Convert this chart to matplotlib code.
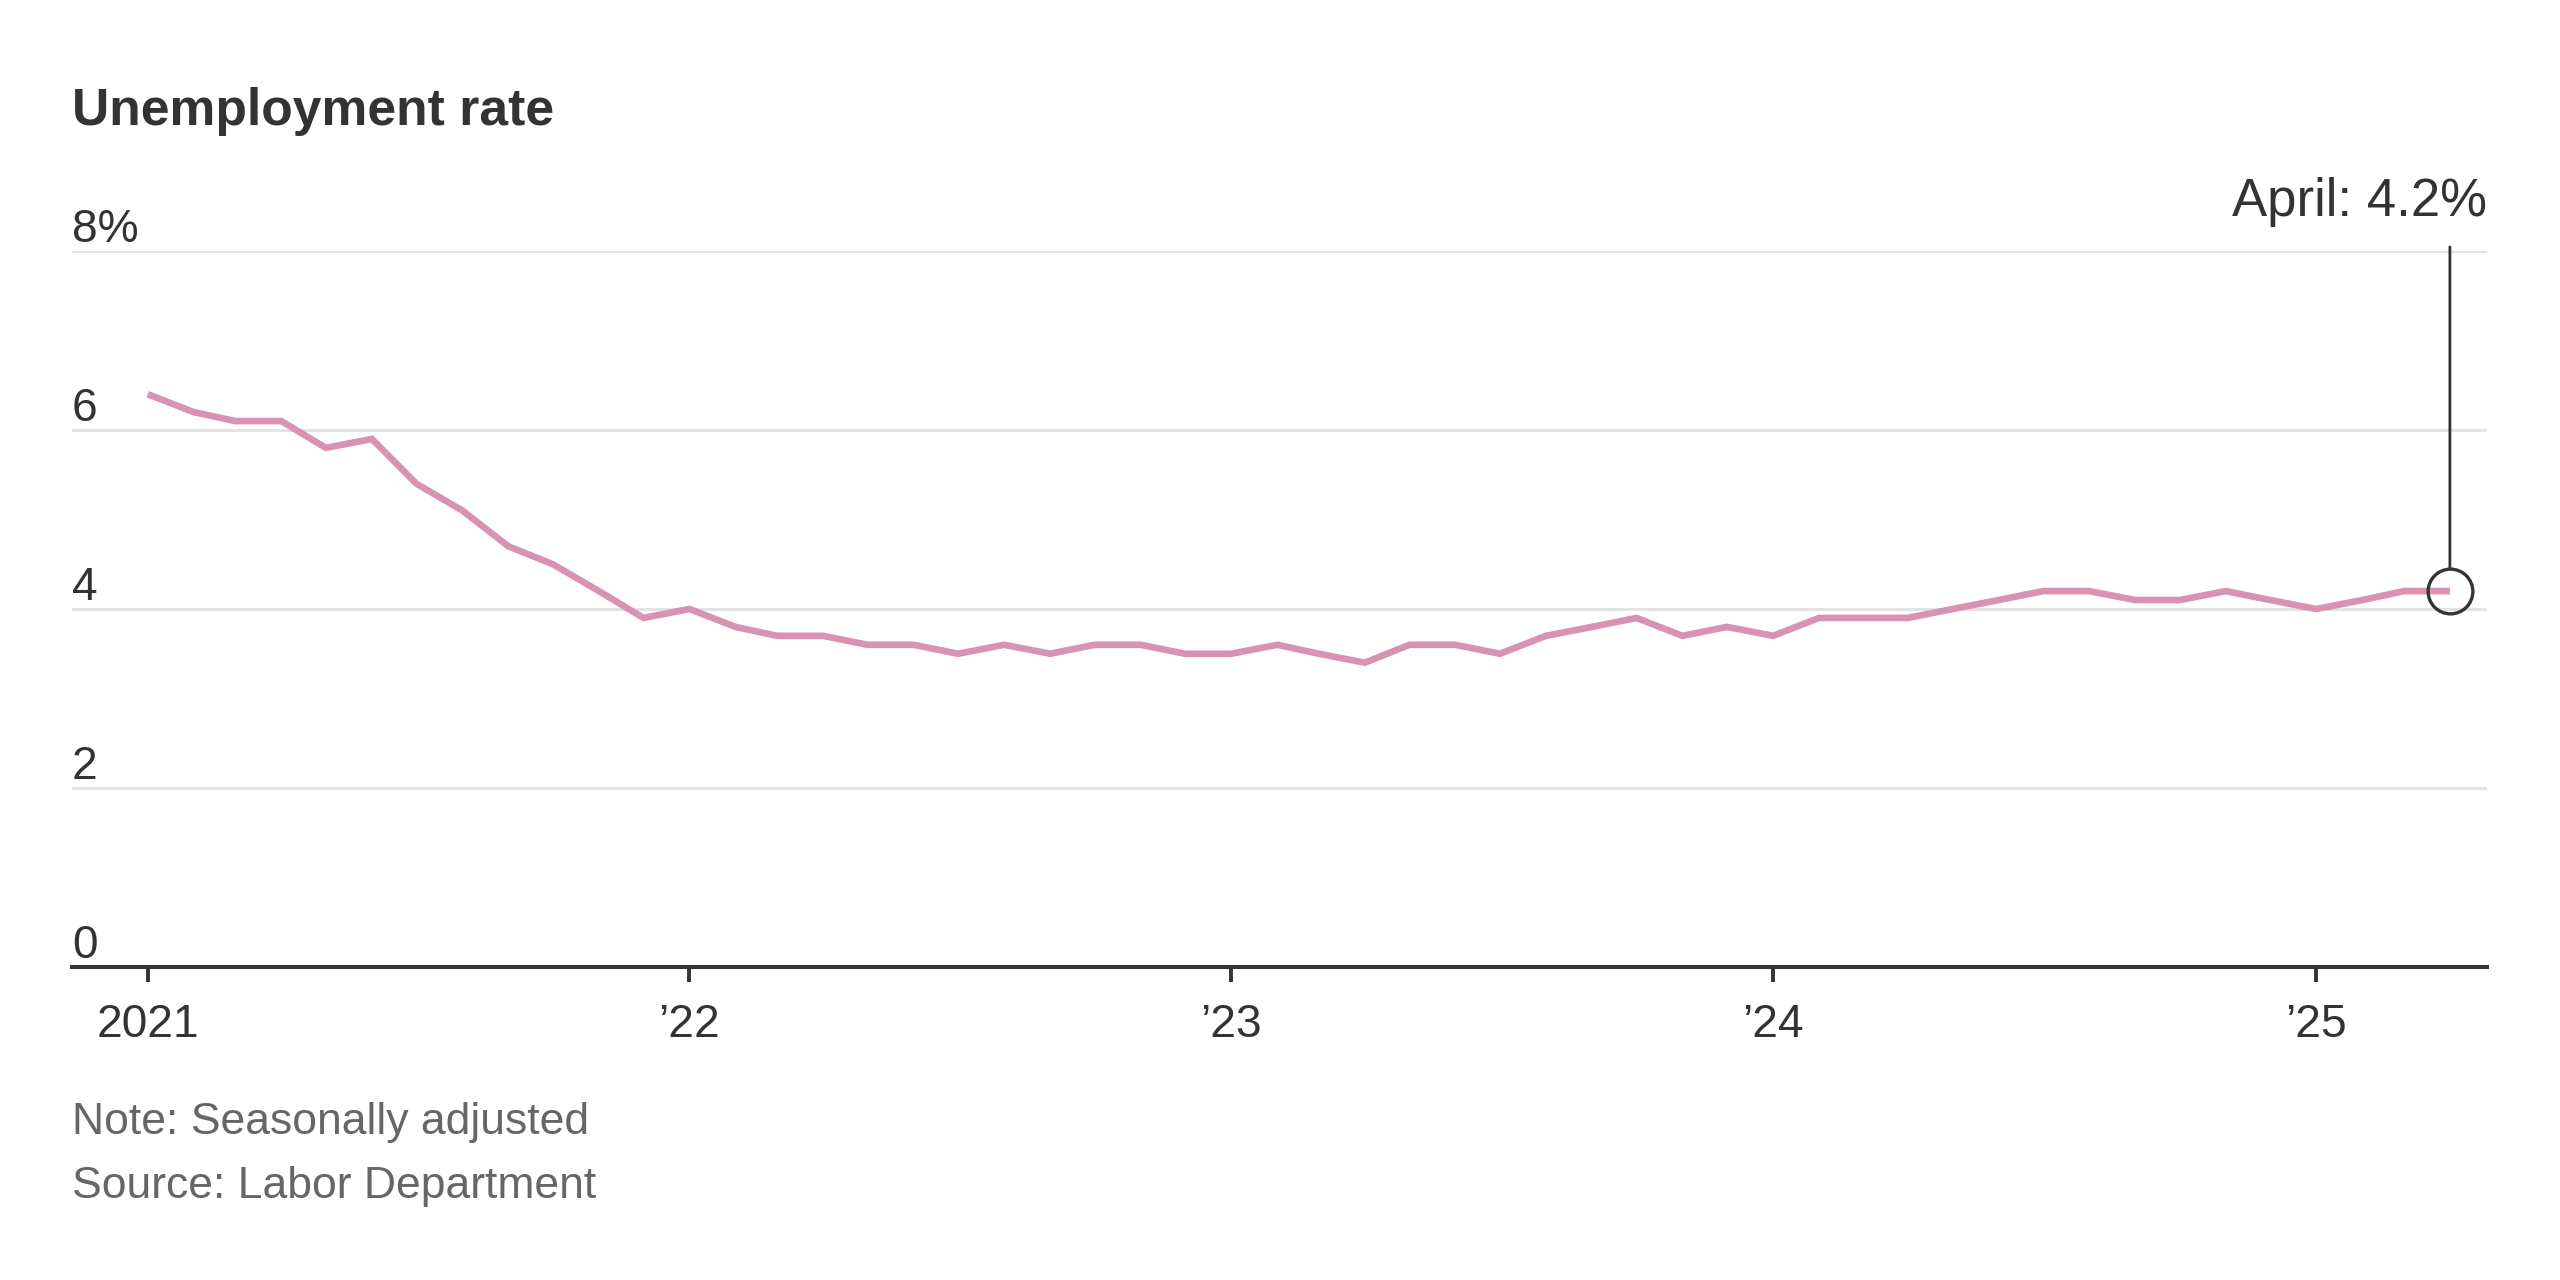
import matplotlib
matplotlib.use("Agg")
import matplotlib.pyplot as plt
import matplotlib.transforms as mtransforms
import pandas as pd

# ---- data ----
start_month = "2021-01-01"
rate = [6.4, 6.2, 6.1, 6.1, 5.8, 5.9, 5.4, 5.1, 4.7, 4.5, 4.2, 3.9,
        4.0, 3.8, 3.7, 3.7, 3.6, 3.6, 3.5, 3.6, 3.5, 3.6, 3.6, 3.5,
        3.5, 3.6, 3.5, 3.4, 3.6, 3.6, 3.5, 3.7, 3.8, 3.9, 3.7, 3.8,
        3.7, 3.9, 3.9, 3.9, 4.0, 4.1, 4.2, 4.2, 4.1, 4.1, 4.2, 4.1,
        4.0, 4.1, 4.2, 4.2]
x_tick_dates = ["2021-01-01", "2022-01-01", "2023-01-01", "2024-01-01", "2025-01-01"]
x_tick_labels = ["2021", "\u201922", "\u201923", "\u201924", "\u201925"]
y_ticks = [0, 2, 4, 6, 8]
y_tick_labels = ["0", "2", "4", "6", "8%"]
title = "Unemployment rate"
callout = "April: 4.2%"
note = "Note: Seasonally adjusted"
source = "Source: Labor Department"

dates = pd.date_range(start_month, periods=len(rate), freq="MS")

plt.rcParams["font.family"] = ["Liberation Sans", "DejaVu Sans"]
narrow = ["Liberation Sans Narrow", "Liberation Sans", "DejaVu Sans"]

W, H = 2560, 1280
fig = plt.figure(figsize=(12.8, 6.4), dpi=200)
fig.patch.set_facecolor("white")

left, right, bottom, top = 72, 2487, 967, 251
ax = fig.add_axes([left / W, 1 - bottom / H, (right - left) / W, (bottom - top) / H])

ax.plot(dates, rate, color="#d893b2", lw=2.4, solid_joinstyle="miter",
        solid_capstyle="butt", zorder=3)

ax.set_ylim(0, 8)
ax.set_xlim(pd.Timestamp("2020-11-11"), pd.Timestamp("2025-04-26"))

for s in ["top", "right", "left"]:
    ax.spines[s].set_visible(False)
ax.spines["bottom"].set_color("#333333")
ax.spines["bottom"].set_linewidth(1.45)
ax.spines["bottom"].set_zorder(4)

ax.set_yticks(y_ticks)
ax.set_yticklabels([])
ax.tick_params(axis="y", length=0)
ax.grid(axis="y", color="#e3e3e3", lw=1.1, zorder=1)
ax.set_axisbelow(True)

ax.set_xticks(pd.to_datetime(x_tick_dates))
ax.set_xticklabels(x_tick_labels, family=narrow)
ax.tick_params(axis="x", length=5.4, width=1.4, color="#333333", pad=7.5,
               labelsize=16.6, labelcolor="#333333")

trans = mtransforms.blended_transform_factory(ax.transAxes, ax.transData)
for v, lab in zip(y_ticks, y_tick_labels):
    ax.annotate(lab, xy=(0, v), xycoords=trans, xytext=(0, 3.4),
                textcoords="offset points", ha="left", va="baseline",
                fontsize=16.6, color="#333333", family=narrow,
                annotation_clip=False)

# callout
ax.plot(dates[-1], rate[-1], marker="o", ms=16.1, mfc="none", mec="#333333",
        mew=1.2, zorder=5, clip_on=False)
ax.annotate("", xy=(dates[-1], rate[-1]), xytext=(dates[-1], 8.045),
            arrowprops=dict(arrowstyle="-", color="#333333", lw=1.0,
                            shrinkA=0, shrinkB=8.1),
            annotation_clip=False, zorder=5)
fig.text(right / W, 1 - 216 / H, callout, ha="right", va="baseline",
         fontsize=19, color="#333333")

fig.text(left / W, 1 - 125 / H, title, ha="left", va="baseline",
         fontsize=18.6, fontweight="bold", color="#333333")
fig.text(left / W, 1 - 1134 / H, note, ha="left", va="baseline",
         fontsize=16, color="#666666")
fig.text(left / W, 1 - 1198 / H, source, ha="left", va="baseline",
         fontsize=16, color="#666666")

fig.savefig("out.png", dpi=200, facecolor="white")
